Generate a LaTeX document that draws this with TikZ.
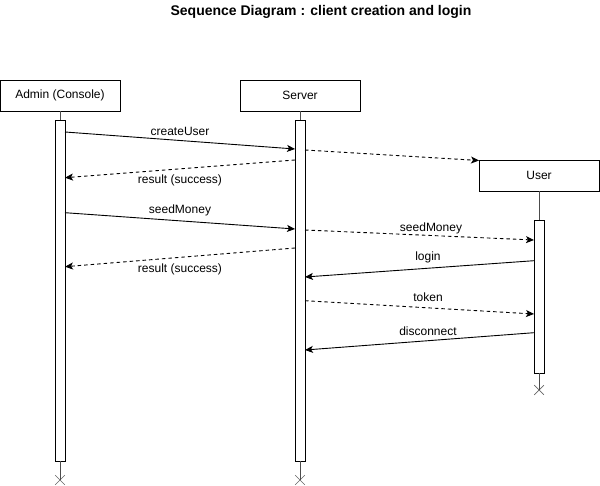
\documentclass[tikz,border=0pt]{standalone}
\usepackage{fontspec}
\setmainfont{Liberation Sans}
\usetikzlibrary{arrows.meta,shapes.misc}
\begin{document}
\begin{tikzpicture}[x=1pt,y=-1pt,
  font=\fontsize{12}{14}\selectfont,
  actorbox/.style={draw=black, line width=0.9pt, minimum width=120pt, minimum height=31pt, inner sep=0pt, fill=white},
  actbar/.style={draw=black, line width=0.9pt, minimum width=10pt, inner sep=0pt, fill=white},
  endx/.style={cross out, draw=black!60, line width=0.7pt, minimum size=9pt, inner sep=0pt},
  life/.style={draw=black!70, line width=0.9pt},
  callmsg/.style={draw=black, line width=0.9pt, -{Stealth[length=8pt,width=7pt,inset=2pt]}},
  retmsg/.style={draw=black, line width=0.9pt, dashed, dash pattern=on 3.5pt off 3pt, -{Stealth[length=8pt,width=7pt,inset=2pt]}},
  msglabel/.style={inner sep=0pt, text=black}
]
\useasboundingbox (0,0) rectangle (600,486);
\node[font=\fontsize{14}{16}\selectfont\bfseries] (title) at (321,12) {Sequence Diagram : client creation and login};

% actors
\node[actorbox] (admin) at (60,95.5) {Admin (Console)};
\node[actorbox] (server) at (300,95.5) {Server};
\node[actorbox] (user) at (539,175.5) {User};

% activation bars
\node[actbar, minimum height=341pt] (abar) at (60,290.5) {};
\node[actbar, minimum height=341pt] (sbar) at (300,290.5) {};
\node[actbar, minimum height=153pt] (ubar) at (539,296.5) {};

% end crosses
\node[endx] (aend) at (60,480) {};
\node[endx] (send) at (300,480) {};
\node[endx] (uend) at (539,390) {};

% lifelines
\draw[life] (admin.south) -- (abar.north);
\draw[life] (abar.south) -- (aend.center);
\draw[life] (server.south) -- (sbar.north);
\draw[life] (sbar.south) -- (send.center);
\draw[life] (user.south) -- (ubar.north);
\draw[life] (ubar.south) -- (uend.center);

% message end points
\coordinate (m1a) at (65,132);    \coordinate (m1b) at (295,149);
\coordinate (m2a) at (305,150);   \coordinate (m2b) at (479,160.5);
\coordinate (m3a) at (295,160);   \coordinate (m3b) at (65,177.7);
\coordinate (m4a) at (65,212.7);  \coordinate (m4b) at (295,229);
\coordinate (m5a) at (305,230);   \coordinate (m5b) at (534,240);
\coordinate (m6a) at (295,248);   \coordinate (m6b) at (65,266.7);
\coordinate (m7a) at (534,260.7); \coordinate (m7b) at (305,277);
\coordinate (m8a) at (305,300.7); \coordinate (m8b) at (534,314);
\coordinate (m9a) at (534,332.7); \coordinate (m9b) at (305,350);

% messages
\draw[callmsg] (m1a) -- node[msglabel, yshift=9.5pt] (l1) {createUser} (m1b);
\draw[retmsg] (m2a) -- (m2b);
\draw[retmsg] (m3a) -- node[msglabel, yshift=-12pt] (l3) {result (success)} (m3b);
\draw[callmsg] (m4a) -- node[msglabel, yshift=10pt] (l4) {seedMoney} (m4b);
\draw[retmsg] (m5a) -- node[msglabel, xshift=11.5pt, yshift=7pt] (l5) {seedMoney} (m5b);
\draw[retmsg] (m6a) -- node[msglabel, yshift=-12pt] (l6) {result (success)} (m6b);
\draw[callmsg] (m7a) -- node[msglabel, xshift=8.5pt, yshift=11pt] (l7) {login} (m7b);
\draw[retmsg] (m8a) -- node[msglabel, xshift=8.5pt, yshift=10pt] (l8) {token} (m8b);
\draw[callmsg] (m9a) -- node[msglabel, xshift=8.5pt, yshift=10pt] (l9) {disconnect} (m9b);
\end{tikzpicture}
\end{document}
